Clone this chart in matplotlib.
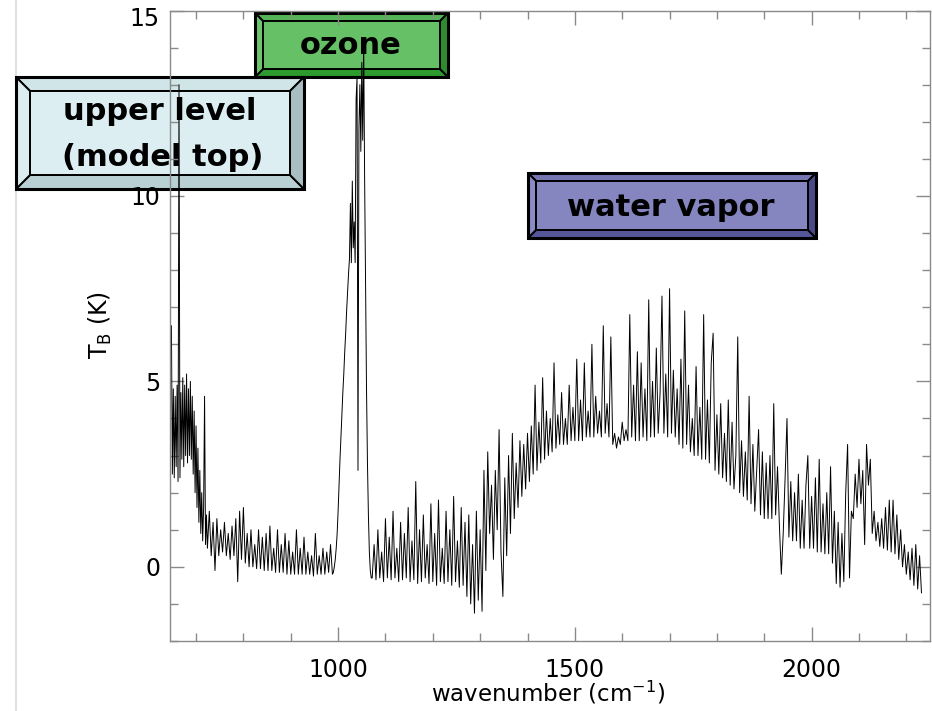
import numpy as np
import matplotlib
matplotlib.use("Agg")
import matplotlib.pyplot as plt
from matplotlib.patches import Polygon
from matplotlib.lines import Line2D

# ---------------- data ----------------
# segment A: 648 .. 724 cm-1, step 2 (dense block at the left edge)
segA_start, segA_step = 648, 2
segA_tb = [
    6.5, 2.5, 4.8, 2.4, 4.6, 2.7, 4.9, 2.3, 13.0, 2.4,
    4.7, 2.9, 5.1, 2.7, 4.9, 3.0, 5.2, 2.8, 4.8, 3.0,
    5.0, 2.9, 4.6, 2.5, 4.2, 2.0, 3.8, 1.6, 3.2, 1.2,
    2.6, 0.9, 2.0, 0.7, 1.6, 4.6, 0.6, 1.4, 0.5,
]
# segment B: 728 .. 988 cm-1, step 4
segB_start, segB_step = 728, 4
segB_tb = [
    1.5, 0.3, 1.2, -0.1, 1.3, 0.3, 1.0, 0.4, 1.2, 0.3,
    0.9, 0.2, 1.1, 0.3, 1.3, -0.4, 1.5, 0.2, 1.6, 0.1,
    0.9, 0.0, 1.0, 0.0, 0.6, -0.05, 1.0, -0.05, 0.8, -0.1,
    0.9, -0.1, 1.1, -0.1, 0.5, -0.15, 1.0, -0.15, 0.6, -0.15,
    0.9, -0.2, 0.7, -0.2, 0.4, -0.2, 1.0, -0.2, 0.5, -0.2,
    0.8, -0.2, 0.4, -0.2, 0.3, -0.25, 0.9, -0.2, 0.3, -0.2,
    0.5, -0.2, 0.4, -0.15, 0.6, -0.2,
]
# segment C: ozone band 990 .. 1070 cm-1, step 2
segC_start, segC_step = 990, 2
segC_tb = [
    -0.15, 0.0, 0.2, 0.5, 0.9,
    1.5, 2.2, 2.9, 3.5, 4.1,
    4.7, 5.2, 5.8, 6.3, 6.9,
    7.4, 7.9, 8.3, 9.8, 8.2,
    10.4, 8.6, 9.3, 8.2, 12.6,
    13.2, 2.6, 11.8, 13.0, 11.2,
    13.6, 11.5, 14.2, 10.5, 7.5,
    4.8, 2.8, 1.4, 0.4, -0.1,
    -0.3,
]
# segment D: 1072 .. 2232 cm-1, step 4
segD_start, segD_step = 1072, 4
segD_tb = [
    -0.3, 0.6, -0.35, 1.0, -0.3, 0.4, -0.4, 1.3, -0.3, 0.8,
    -0.35, 1.5, -0.3, 0.5, -0.4, 1.2, -0.35, 0.9, -0.3, 1.6,
    -0.4, 0.7, -0.35, 2.3, -0.45, 1.0, -0.4, 1.4, -0.3, 0.6,
    -0.45, 1.7, -0.4, 0.9, -0.5, 1.8, -0.4, 0.5, -0.45, 1.5,
    -0.4, 1.0, -0.5, 1.9, -0.4, 0.7, -0.55, 1.6, -0.5, 1.2,
    -0.8, 1.4, -1.0, 0.6, -1.25, 1.5, -0.9, 1.0, -1.2, 2.6,
    -0.1, 3.1, 0.9, 2.2, 0.2, 2.6, 1.0, 3.7, 0.4, -0.8,
    2.4, 0.3, 3.0, 0.9, 3.6, 1.3, 2.8, 1.6, 3.4, 1.9,
    3.3, 2.1, 3.6, 2.3, 3.8, 2.5, 4.9, 2.6, 3.9, 2.8,
    5.1, 2.9, 4.2, 3.0, 4.0, 3.1, 5.5, 3.2, 4.1, 3.3,
    4.7, 3.3, 4.0, 3.3, 4.9, 3.4, 4.3, 3.4, 5.6, 3.4,
    4.5, 3.4, 5.5, 3.5, 4.2, 3.5, 6.0, 3.5, 4.6, 3.6,
    4.2, 3.5, 6.5, 3.6, 4.4, 3.5, 6.2, 3.3, 3.6, 3.2,
    3.5, 3.3, 3.9, 3.4, 3.7, 3.4, 6.8, 3.5, 4.9, 3.4,
    5.8, 3.4, 5.5, 3.5, 4.8, 3.4, 7.2, 3.5, 5.0, 3.5,
    5.9, 3.6, 4.7, 7.3, 3.6, 5.2, 3.5, 7.5, 3.6, 5.3,
    3.5, 4.8, 3.3, 5.6, 3.2, 6.9, 3.3, 4.9, 3.1, 4.0,
    3.0, 5.4, 3.0, 4.3, 2.9, 6.8, 2.9, 4.5, 2.8, 5.5,
    6.3, 2.6, 4.1, 2.5, 4.4, 2.4, 3.6, 2.3, 4.5, 2.2,
    3.9, 2.1, 3.0, 6.2, 2.0, 3.4, 1.9, 3.1, 1.8, 4.6,
    1.7, 3.3, 1.5, 2.6, 3.7, 1.4, 3.1, 1.3, 2.8, 1.3,
    3.0, 1.3, 4.4, 1.4, 2.7, 1.1, -0.2, 0.9, 2.4, 4.0,
    0.8, 2.3, 0.7, 2.0, 0.7, 2.5, 0.5, 1.8, 0.5, 2.2,
    3.0, 0.5, 1.9, 0.5, 2.4, 0.4, 2.9, 0.4, 1.7, 0.35,
    2.0, 0.35, 2.7, 0.1, 1.5, -0.45, 1.2, -0.55, 0.9, -0.4,
    2.0, 3.3, -0.3, 1.5, 1.3, 2.5, 1.6, 2.9, 1.7, 2.6,
    0.6, 3.3, 2.2, 2.9, 0.9, 1.5, 0.7, 1.2, 0.55, 1.3,
    0.5, 1.6, 0.45, 1.8, 0.4, 1.8, 0.35, 1.4, 0.2, 1.0,
    0.0, 0.6, -0.2, 0.4, -0.35, 0.5, -0.5, 0.6, -0.6, 0.3,
    -0.7,
]

x_ticks = [1000, 1500, 2000]
x_tick_labels = ["1000", "1500", "2000"]
y_ticks = [0, 5, 10, 15]
y_tick_labels = ["0", "5", "10", ""]

segments = [
    (segA_start, segA_step, segA_tb),
    (segB_start, segB_step, segB_tb),
    (segC_start, segC_step, segC_tb),
    (segD_start, segD_step, segD_tb),
]
wn = np.concatenate([s0 + st * np.arange(len(v)) for s0, st, v in segments])
tb = np.concatenate([v for _, _, v in segments])

# ---------------- figure ----------------
W, H = 932, 711
fig = plt.figure(figsize=(W / 100, H / 100), dpi=100)
fig.patch.set_facecolor("white")

def fx(x):
    return x / W

def fy(y):
    return 1 - y / H

ax = fig.add_axes([fx(170), fy(641), (930 - 170) / W, (641 - 10.5) / H])
ax.set_zorder(3)
ax.patch.set_visible(False)

ax.plot(wn, tb, color="black", lw=0.7, zorder=2)

ax.set_xlim(645, 2250)
ax.set_ylim(-2, 15)
ax.set_xticks(x_ticks)
ax.set_xticklabels(x_tick_labels)
ax.set_xticks(np.arange(700, 2250, 100), minor=True)
ax.set_yticks(y_ticks)
ax.set_yticklabels(y_tick_labels)
ax.set_yticks(np.arange(-2, 16, 1), minor=True)

spine_col = "#8a8a8a"
for s in ax.spines.values():
    s.set_color(spine_col)
    s.set_linewidth(1.0)
ax.tick_params(which="both", direction="in", top=True, right=True,
               color=spine_col, width=1.0, labelcolor="black", labelsize=17)
ax.tick_params(which="major", length=10)
ax.tick_params(which="minor", length=5.5)
ax.tick_params(axis="x", which="major", pad=12)
ax.tick_params(axis="y", which="major", pad=7)

# the "15" label sits a bit lower than its tick in the original
fig.text(fx(160), fy(19), "15", ha="right", va="center", fontsize=17, zorder=4)

fig.text(fx(548), fy(693), r"wavenumber (cm$^{-1}$)", ha="center", va="center",
         fontsize=16.5)
fig.text(fx(100), fy(325), r"T$_{\mathrm{B}}$ (K)", ha="center", va="center",
         rotation=90, fontsize=17)

# slide frame line on the left
fig.add_artist(Line2D([fx(16), fx(16)], [0, 1], color="#dadada", lw=1.2,
                      transform=fig.transFigure, zorder=0))

# ---------------- bevelled label boxes ----------------
def bevel_box(x0, y0, x1, y1, i, face, top, bottom, left, right):
    def P(pts, col, lw=1.4):
        poly = Polygon([(fx(a), fy(b)) for a, b in pts], closed=True,
                       transform=fig.transFigure, facecolor=col,
                       edgecolor="black", lw=lw, zorder=1, joinstyle="miter")
        fig.add_artist(poly)
    P([(x0, y0), (x1, y0), (x1 - i, y0 + i), (x0 + i, y0 + i)], top)
    P([(x0, y1), (x1, y1), (x1 - i, y1 - i), (x0 + i, y1 - i)], bottom)
    P([(x0, y0), (x0 + i, y0 + i), (x0 + i, y1 - i), (x0, y1)], left)
    P([(x1, y0), (x1 - i, y0 + i), (x1 - i, y1 - i), (x1, y1)], right)
    P([(x0 + i, y0 + i), (x1 - i, y0 + i), (x1 - i, y1 - i), (x0 + i, y1 - i)], face)
    outer = Polygon([(fx(x0), fy(y0)), (fx(x1), fy(y0)), (fx(x1), fy(y1)), (fx(x0), fy(y1))],
                    closed=True, transform=fig.transFigure, fill=False,
                    edgecolor="black", lw=2.2, zorder=1.1, joinstyle="miter")
    fig.add_artist(outer)

bevel_box(16, 77, 304, 189, 14, "#dceef1", "#cfe5e8", "#b8cfd3", "#dbedf0", "#a9bec2")
bevel_box(255, 13, 448, 77, 8, "#66c066", "#55b455", "#2c9a2c", "#6cc46c", "#2e8c2e")
bevel_box(528, 173, 816, 238, 8, "#8585c0", "#7575b2", "#56569a", "#8a8ac4", "#4a4a88")

box_font = dict(fontsize=22, fontweight="bold", ha="center", va="center",
                color="black", zorder=1.5)
fig.text(fx(160), fy(112), "upper level", **box_font)
fig.text(fx(163), fy(157), "(model top)", **box_font)
fig.text(fx(351), fy(46), "ozone", **box_font)
fig.text(fx(671), fy(207), "water vapor", **box_font)

fig.savefig("out.png", dpi=100)
